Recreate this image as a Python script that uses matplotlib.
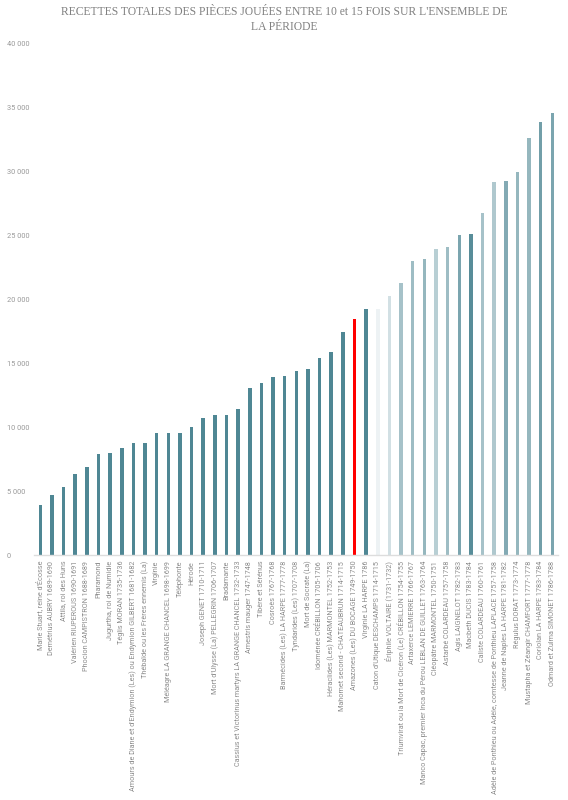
import matplotlib
matplotlib.use("Agg")
import matplotlib.pyplot as plt
from matplotlib.ticker import FuncFormatter

# pieces, in the order of the chart
pieces = [
    "Marie Stuart, reine d'Écosse",
    "Demétrius AUBRY 1689-1690",
    "Attila, roi des Huns",
    "Valérien RIUPEROUS 1690-1691",
    "Phocion CAMPISTRON 1688-1689",
    "Pharamond",
    "Jugurtha, roi de Numidie",
    "Téglis MORAN 1735-1736",
    "Amours de Diane et d'Endymion (Les) ou Endymion GILBERT 1681-1682",
    "Thébaïde ou les Frères ennemis (La)",
    "Virginie",
    "Méléagre LA GRANGE CHANCEL 1698-1699",
    "Téléphonte",
    "Hérode",
    "Joseph GENET 1710-1711",
    "Mort d'Ulysse (La) PELLEGRIN 1706-1707",
    "Bradamante",
    "Cassius et Victorinus martyrs LA GRANGE CHANCEL 1732-1733",
    "Amestris mauger 1747-1748",
    "Tibère et Sérénus",
    "Cosroès 1767-1768",
    "Barmécides (Les) LA HARPE 1777-1778",
    "Tyndarides (Les) 1707-1708",
    "Mort de Socrate (La)",
    "Idoménée CRÉBILLON 1705-1706",
    "Héraclides (Les) MARMONTEL 1752-1753",
    "Mahomet second - CHATEAUBRUN 1714-1715",
    "Amazones (Les) DU BOCAGE 1749-1750",
    "Virginie LA HARPE 1786",
    "Caton d'Utique DESCHAMPS 1714-1715",
    "Ériphile VOLTAIRE (1731-1732)",
    "Triumvirat ou la Mort de Cicéron (Le) CRÉBILLON 1754-1755",
    "Artaxerce LEMIERRE 1766-1767",
    "Manco Capac, premier Inca du Pérou LEBLAN DE GUILLET 1763-1764",
    "Cléopâtre MARMONTEL 1750-1751",
    "Astarbé COLARDEAU 1757-1758",
    "Agis LAIGNELOT 1782-1783",
    "Macbeth DUCIS 1783-1784",
    "Caliste COLARDEAU 1760-1761",
    "Adèle de Ponthieu ou Adèle, comtesse de Ponthieu LAPLACE 1757-1758",
    "Jeanne de Naples LA HARPE 1781-1782",
    "Régulus DORAT 1773-1774",
    "Mustapha et Zéangir CHAMFORT 1777-1778",
    "Coriolan LA HARPE 1783-1784",
    "Odmard et Zulma SIMONET 1786-1788",
]

recettes = [
    3960, 4740, 5290, 6380, 6900, 7890, 7970, 8340, 8750, 8750,
    9510, 9510, 9510, 10050, 10680, 10990, 10990, 11410, 13070, 13490,
    13930, 13980, 14400, 14510, 15370, 15880, 17450, 18460, 19200, 19250,
    20230, 21270, 23020, 23120, 23930, 24040, 25020, 25130, 26700, 29120,
    29270, 29970, 32600, 33830, 34550,
]

# opacity of each bar (the later ones are drawn in lighter shades)
opacite = [1.0] * 29 + [0.1, 0.25, 0.5, 0.55, 0.6, 0.4, 0.55, 0.75, 0.95,
                        0.5, 0.45, 0.7, 0.6, 0.6, 0.8, 0.75]
rouge = "Amazones (Les) DU BOCAGE 1749-1750"

teal = (0.31, 0.53, 0.58)

fig = plt.figure(figsize=(5.68, 8), dpi=100)
ax = fig.add_axes([0.0607, 0.306, 0.922, 0.64])

x = list(range(len(pieces)))
colors = []
for p, a in zip(pieces, opacite):
    if p == rouge:
        colors.append((1.0, 0.0, 0.0, 1.0))
    else:
        colors.append(teal + (a,))

ax.bar(x, recettes, width=0.3, color=colors, zorder=2)

ax.set_xlim(-0.5, len(pieces) - 0.5)
ax.set_ylim(0, 40000)
ax.set_yticks(range(0, 40001, 5000))
ax.yaxis.set_major_formatter(FuncFormatter(lambda v, p: "{:,}".format(int(v)).replace(",", " ")))

for s in ["top", "right", "left"]:
    ax.spines[s].set_visible(False)
ax.spines["bottom"].set_color("#dddddd")
ax.spines["bottom"].set_linewidth(1.0)

ax.tick_params(axis="y", length=0, labelsize=5.3, labelcolor="#999999", pad=0)
for lbl in ax.get_yticklabels():
    lbl.set_horizontalalignment("left")
    lbl.set_fontfamily("Roboto")
    lbl.set_x(-0.053)

ax.set_xticks(x)
ax.set_xticklabels(pieces, rotation=90, fontsize=5.2, color="#8c8c8c",
                   family="Roboto")
ax.tick_params(axis="x", length=0, pad=4)

fig.text(0.5, 0.992, "RECETTES TOTALES DES PIÈCES JOUÉES ENTRE 10 et 15 FOIS SUR L'ENSEMBLE DE\nLA PÉRIODE",
         ha="center", va="top", fontsize=8.4, color="#808080", family="Liberation Serif",
         linespacing=1.3)

plt.savefig("out.png", dpi=100)
